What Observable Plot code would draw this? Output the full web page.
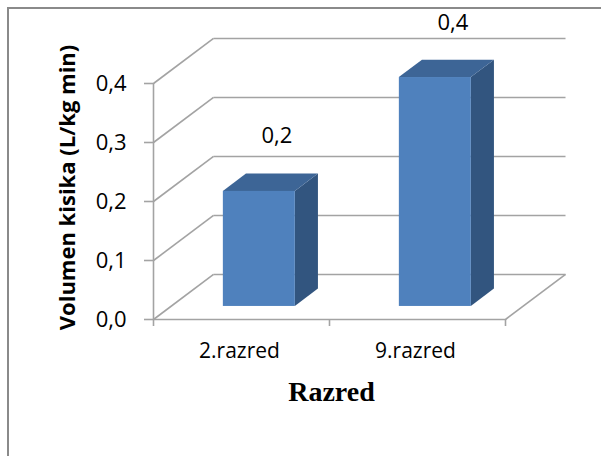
<!DOCTYPE html>
<html><head><meta charset="utf-8">
<script src="https://cdn.jsdelivr.net/npm/d3@7"></script>
<script src="https://cdn.jsdelivr.net/npm/@observablehq/plot@0.6"></script>
<style>
html,body{margin:0;padding:0;background:#fff;}
#wrap{position:relative;width:601px;height:456px;overflow:hidden;}
#wrap svg{position:absolute;left:0;top:0;}
#border{position:absolute;left:7px;top:7px;width:800px;height:700px;border-left:2px solid #8a8a8a;border-top:2px solid #8a8a8a;}
</style></head><body><div id="wrap"><div id="border"></div></div>
<script>
const categories = ["2.razred", "9.razred"];
const values = [0.195, 0.388];
const dataLabels = ["0,2", "0,4"];
const yTicks = [0, 0.1, 0.2, 0.3, 0.4];
const yTickLabels = ["0,0", "0,1", "0,2", "0,3", "0,4"];
const yTitle = "Volumen kisika (L/kg min)";
const xTitle = "Razred";

// oblique projection (depth) in data units
const DX = 0.341, DY = 0.0763;
const F = 0.29, B = 0.675;         // bar front/back depth fraction
const BX0 = 0.298, BX1 = 0.707;    // bar extent inside category band
const n = categories.length;

const gridLines = yTicks.map(t => ({x1: DX, x2: n + DX, y1: t + DY, y2: t + DY}));
const wallLines = yTicks.map(t => ({x1: 0, x2: DX, y1: t, y2: t + DY}));
const floorLines = [
  {x1: 0, x2: n, y1: 0, y2: 0},
  {x1: n, x2: n + DX, y1: 0, y2: DY}
];
const fronts = values.map((v, i) => ({x1: i + BX0 + F * DX, x2: i + BX1 + F * DX, y1: F * DY, y2: v + F * DY}));
const sides = values.flatMap((v, i) => [
  {id: i, x: i + BX1 + F * DX, y1: F * DY, y2: v + F * DY},
  {id: i, x: i + BX1 + B * DX, y1: B * DY, y2: v + B * DY}
]);
const tops = values.flatMap((v, i) => [
  {id: i, y: v + F * DY, x1: i + BX0 + F * DX, x2: i + BX1 + F * DX},
  {id: i, y: v + B * DY, x1: i + BX0 + B * DX, x2: i + BX1 + B * DX}
]);
const labels = values.map((v, i) => ({x: i + 0.5 + F * DX, y: v + F * DY, text: dataLabels[i]}));
const cats = categories.map((c, i) => ({x: i + 0.5, text: c}));

const grid = "#a3a3a3";
const chart = Plot.plot({
  width: 601, height: 456,
  marginLeft: 153, marginRight: 96, marginTop: 83, marginBottom: 137,
  style: {fontFamily: "'Open Sans', sans-serif", background: "transparent", overflow: "visible"},
  x: {domain: [0, n], axis: null},
  y: {domain: [0, 0.4], axis: null},
  marks: [
    Plot.link(gridLines, {x1: "x1", x2: "x2", y1: "y1", y2: "y2", stroke: grid, strokeWidth: 1.6}),
    Plot.link(wallLines, {x1: "x1", x2: "x2", y1: "y1", y2: "y2", stroke: grid, strokeWidth: 1.6}),
    Plot.link(floorLines, {x1: "x1", x2: "x2", y1: "y1", y2: "y2", stroke: grid, strokeWidth: 1.6}),
    Plot.ruleX([0], {y1: 0, y2: 0.4, stroke: grid, strokeWidth: 1.6}),
    Plot.axisY({ticks: yTicks, tickSize: 9, text: null, stroke: grid, strokeWidth: 1.6}),
    Plot.axisY({ticks: yTicks, tickSize: 0, tickPadding: 27, tickFormat: (d, i) => yTickLabels[i], fill: "#000", fontSize: 22}),
    Plot.axisX({ticks: d3.range(n + 1), tickSize: 7, text: null, stroke: grid, strokeWidth: 1.6}),
    Plot.text(cats, {x: "x", text: "text", frameAnchor: "bottom", dy: 38, dx: -2, fontSize: 21, fill: "#000"}),
    Plot.areaY(sides, {x: "x", y1: "y1", y2: "y2", z: "id", fill: "#32557f", curve: "linear"}),
    Plot.areaX(tops, {y: "y", x1: "x1", x2: "x2", z: "id", fill: "#3d6596", curve: "linear"}),
    Plot.rect(fronts, {x1: "x1", x2: "x2", y1: "y1", y2: "y2", fill: "#4f81bd"}),
    Plot.text(labels, {x: "x", y: "y", text: "text", dy: -55, dx: 18, fontSize: 22, fill: "#000"}),
    Plot.text([yTitle], {frameAnchor: "left", textAnchor: "middle", rotate: -90, dx: -86, dy: -14, fontSize: 22, fontWeight: "bold", fill: "#000"}),
    Plot.text([xTitle], {frameAnchor: "bottom", dy: 81, dx: 2, fontSize: 28, fontWeight: "bold", fontFamily: "'Liberation Serif', serif", fill: "#000"})
  ]
});
document.getElementById("wrap").prepend(chart);
</script></body></html>
